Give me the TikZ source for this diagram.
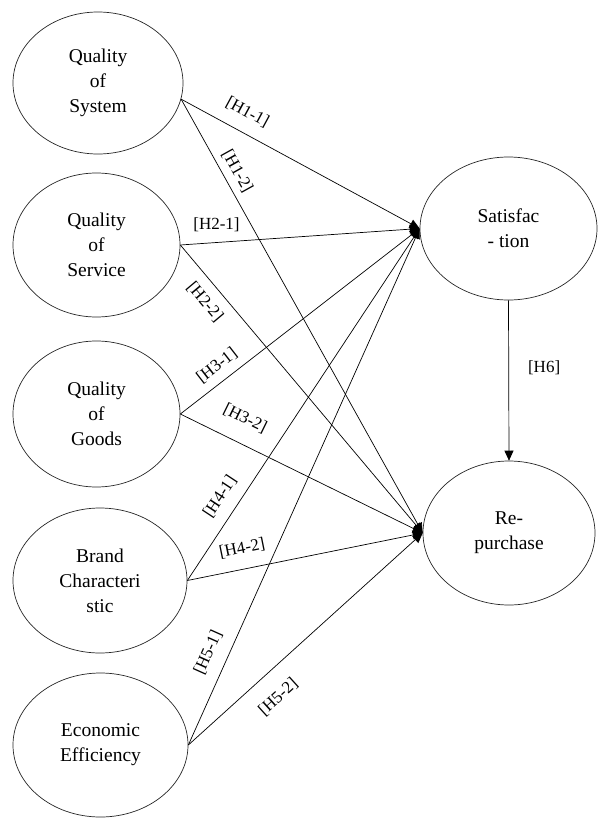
\documentclass[tikz,border=0pt]{standalone}
\usepackage{fontspec}
\setmainfont{Liberation Serif}
\usetikzlibrary{shapes.geometric,arrows.meta}
\begin{document}
\begin{tikzpicture}[x=1pt,y=-1pt,
  construct/.style={draw=black!85, line width=0.7pt, ellipse, inner sep=0pt, align=center, font=\fontsize{19.5}{25}\selectfont},
  hyp/.style={draw, line width=0.7pt, -{Triangle[length=10pt,width=9pt]}},
  hlab/.style={font=\fontsize{17}{20}\selectfont, inner sep=0pt}
]
\useasboundingbox (0,0) rectangle (611,830);
\node[construct, minimum width=170pt, minimum height=142pt] (sys) at (98,83) {Quality\\of\\System};
\node[construct, minimum width=167pt, minimum height=144pt] (svc) at (96.5,245) {Quality\\of\\Service};
\node[construct, minimum width=167pt, minimum height=146pt] (goods) at (96.5,414) {Quality\\of\\Goods};
\node[construct, minimum width=174pt, minimum height=145pt] (brand) at (100,580.5) {Brand\\Characteri\\stic};
\node[construct, minimum width=175pt, minimum height=144pt] (econ) at (100.5,745) {Economic\\Efficiency};
\node[construct, minimum width=177pt, minimum height=143pt] (sat) at (508.5,228.5) {Satisfac\\- tion};
\node[construct, minimum width=172pt, minimum height=144pt] (rep) at (509,533) {Re-\\purchase};

\draw[hyp] (sys.-11) -- node[pos=0.238, sloped, anchor=south, hlab, inner sep=12.6pt] {[H1-1]} (sat.west);
\draw[hyp] (sys.-11) -- node[pos=0.182, sloped, anchor=south, hlab, inner sep=6.7pt] {[H1-2]} (rep.west);
\draw[hyp] (svc.east) -- node[pos=0.151, anchor=south, hlab, inner sep=10pt] {[H2-1]} (sat.west);
\draw[hyp] (svc.east) -- node[pos=0.158, sloped, anchor=north, hlab, inner sep=10.4pt] {[H2-2]} (rep.west);
\draw[hyp] (goods.east) -- node[pos=0.193, sloped, anchor=south, hlab, inner sep=8.2pt] {[H3-1]} (sat.west);
\draw[hyp] (goods.east) -- node[pos=0.223, sloped, anchor=south, hlab, inner sep=17pt] {[H3-2]} (rep.west);
\draw[hyp] (brand.east) -- node[pos=0.208, sloped, anchor=south, hlab, inner sep=11.4pt] {[H4-1]} (sat.west);
\draw[hyp] (brand.east) -- node[pos=0.25, sloped, anchor=south, hlab, inner sep=13pt] {[H4-2]} (rep.west);
\draw[hyp] (econ.east) -- node[pos=0.163, sloped, anchor=south, hlab, inner sep=12.2pt] {[H5-1]} (sat.west);
\draw[hyp] (econ.east) -- node[pos=0.313, sloped, anchor=north, hlab, inner sep=17.4pt] {[H5-2]} (rep.west);
\draw[hyp] (sat.south) -- node[pos=0.42, anchor=west, hlab, xshift=19pt] {[H6]} (rep.north);
\end{tikzpicture}
\end{document}
